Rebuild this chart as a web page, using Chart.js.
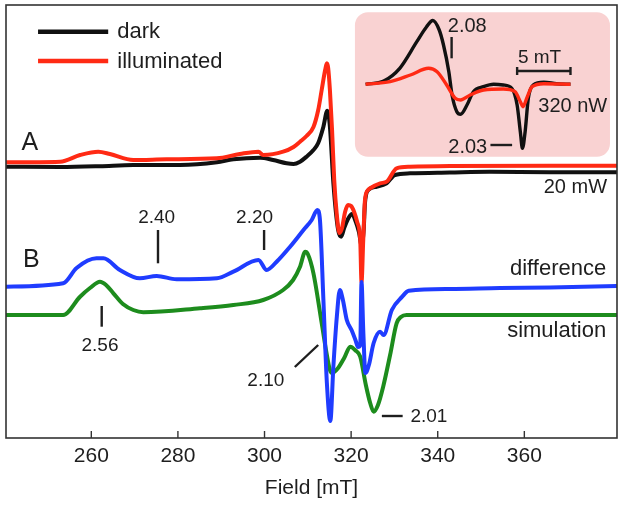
<!DOCTYPE html>
<html>
<head>
<meta charset="utf-8">
<script src="https://cdn.jsdelivr.net/npm/chart.js@4.4.1/dist/chart.umd.min.js"></script>
<style>
  body { margin: 0; background: #fff; }
  canvas { display: block; }
</style>
</head>
<body>
<canvas id="epr" width="624" height="505"></canvas>
<script>
// field in mT, signal in arbitrary units (offset per trace)
const xTicks = [260, 280, 300, 320, 340, 360];

// A: 20 mW spectra
const darkField = [240.1, 252.8, 262, 269.7, 280.5, 289.0, 292.8, 299.0, 302.0, 305.1, 306.7, 308.2, 309.7, 311.3, 312.4, 313.6, 314.5, 315.1, 315.9, 317.0, 317.7, 318.4, 319.4, 320.2, 321.1, 321.8, 322.4, 322.9, 323.2, 324.0, 325.9, 328.2, 330.1, 333.6, 342.8, 352, 365.9, 381.4];
const darkSig   = [270.3, 270, 270.8, 272, 272, 274.7, 277.7, 279.3, 277, 273.7, 273, 275.3, 280.3, 287, 294, 310.3, 326.3, 310.3, 254, 207, 200.3, 209, 219, 223, 215, 205, 192, 207, 234, 247, 250.3, 253.7, 262, 263.7, 264.5, 265.2, 264.7, 264.7];

const illumField = [240.1, 252.8, 257.4, 261.6, 264.3, 269.7, 277.4, 289.0, 294.3, 298.6, 299.7, 304.3, 306.7, 308.2, 309.7, 311.3, 312.4, 313.2, 314.0, 314.4, 314.7, 315.1, 315.6, 316.1, 316.7, 317.3, 317.9, 318.6, 319.3, 320.0, 320.7, 321.4, 322.1, 322.4, 322.8, 323.2, 323.9, 324.4, 326.7, 328.2, 330.5, 333.6, 342.8, 365.9, 381.4];
const illumSig   = [274.7, 275.3, 282, 285.3, 283, 277, 277.7, 278.7, 283, 285.3, 282, 285.3, 290, 295.3, 301, 310, 327, 347, 367, 373.7, 369, 347, 307, 257, 222, 204, 209, 225, 232, 231, 225, 215, 197, 155, 197, 237, 247, 248.7, 253.7, 255.3, 268.7, 270.3, 271, 271.3, 271.3];

// B: difference and simulation
const diffField = [240.1, 253.5, 256.6, 261.2, 262.8, 266.6, 271.2, 275.1, 279.7, 289.0, 292.8, 298.6, 300.5, 302.8, 305.9, 309.0, 310.9, 312.2, 312.8, 313.6, 314.4, 315.2, 315.9, 316.7, 317.4, 318.1, 319.0, 320.1, 321.0, 321.6, 322.1, 322.4, 322.8, 323.3, 324.1, 325.2, 326.7, 327.5, 329.4, 331.8, 333.3, 342.8, 354.4, 365.9, 381.4];
const diffSig   = [150.3, 153.7, 169, 178.7, 178.7, 167, 158.7, 161, 157.7, 158.7, 165.3, 177, 167, 175.3, 190.3, 207, 217, 227, 217, 137, 54, 16, 70.3, 120.3, 147, 137, 117, 107, 97, 90, 92, 155, 107, 64, 72, 94, 105.3, 102, 127, 140.3, 146.3, 148, 149, 149.5, 151];

const simField = [240.1, 253.5, 257.4, 259.7, 262.0, 263.4, 265.1, 267.3, 269.7, 272.0, 285.1, 292.8, 299.7, 304.3, 306.6, 308.2, 309.4, 310.0, 311.3, 313.2, 314.2, 315.1, 315.6, 317.0, 318.4, 319.8, 320.9, 322.1, 323.4, 324.4, 325.2, 326.2, 327.4, 329.0, 330.5, 331.5, 332.8, 381.4];
const simSig   = [122, 122, 140.3, 149, 155.3, 152, 143.7, 133, 127, 124.7, 128.7, 132, 137, 147, 157, 170.3, 185.3, 183, 163.7, 114, 87, 67, 64, 69, 79, 90.3, 87, 80.3, 52, 34, 25.3, 32, 50.3, 82, 113.7, 120, 122, 122];

// inset: 320 nW spectra (own field scale)
const insetDarkField = [315.7, 317.4, 318.9, 320.5, 321.4, 322.0, 322.6, 323.0, 323.5, 323.8, 324.25, 324.6, 325.2, 325.8, 326.75, 327.7, 328.6, 329.4, 329.9, 330.2, 330.4, 330.65, 330.95, 331.4, 332.4, 333.6, 334.9];
const insetDarkSig   = [352.7, 356, 368.7, 395.3, 410, 416.5, 407, 392, 365.3, 342, 325.3, 322.7, 332, 345.3, 350.3, 352.7, 352, 348.7, 332, 305.3, 288.7, 305.3, 338.7, 352, 354.7, 353.3, 352.7];
const insetIllumField = [315.7, 318.0, 319.9, 321.6, 322.4, 323.3, 324.1, 324.6, 325.5, 326.75, 328.6, 329.7, 330.2, 330.45, 330.8, 331.3, 332.4, 334.9];
const insetIllumSig   = [352.7, 355.3, 362, 368.7, 365.3, 352, 338.7, 337, 342, 347, 348, 345.3, 335.3, 330.3, 338.7, 350.3, 353.3, 352.7];

const FONT = '"Liberation Sans", Arial, Helvetica, sans-serif';
const INK = '#1e1e1e';

function pts(xs, ys) {
    return xs.map((x, i) => ({x: x, y: ys[i]}));
}

function line(label, xs, ys, color, xAxis, width) {
    return {
        label: label,
        data: pts(xs, ys),
        borderColor: color,
        borderWidth: width,
        pointRadius: 0,
        cubicInterpolationMode: 'monotone',
        xAxisID: xAxis,
        yAxisID: 'y'
    };
}

// text and marks, placed in data coordinates
const decor = {
    id: 'decor',
    beforeDatasetsDraw(chart) {
        const ctx = chart.ctx, xi = chart.scales.xi, y = chart.scales.y;
        // pink inset panel
        const l = xi.getPixelForValue(314.7), r = xi.getPixelForValue(338.6);
        const t = y.getPixelForValue(424.7), b = y.getPixelForValue(280.3);
        ctx.save();
        ctx.fillStyle = '#f9d2d2';
        ctx.beginPath();
        ctx.roundRect(l, t, r - l, b - t, 13);
        ctx.fill();
        ctx.restore();
    },
    afterDatasetsDraw(chart) {
        const ctx = chart.ctx, x = chart.scales.x, xi = chart.scales.xi, y = chart.scales.y;
        const a = chart.chartArea;
        ctx.save();

        // frame
        ctx.strokeStyle = '#333';
        ctx.lineWidth = 1.6;
        ctx.strokeRect(a.left, a.top, a.right - a.left, a.bottom - a.top);
        // inward tick marks
        ctx.lineWidth = 1.4;
        x.ticks.forEach(t => {
            const px = x.getPixelForValue(t.value);
            ctx.beginPath();
            ctx.moveTo(px, a.bottom);
            ctx.lineTo(px, a.bottom - 7);
            ctx.stroke();
        });

        function seg(s, x1, y1, x2, y2) {
            ctx.strokeStyle = INK;
            ctx.lineWidth = 2.4;
            ctx.beginPath();
            ctx.moveTo(s.getPixelForValue(x1), y.getPixelForValue(y1));
            ctx.lineTo(s.getPixelForValue(x2), y.getPixelForValue(y2));
            ctx.stroke();
        }
        function txt(s, str, fx, fy, size, align) {
            ctx.fillStyle = INK;
            ctx.font = size + 'px ' + FONT;
            ctx.textAlign = align;
            ctx.textBaseline = 'alphabetic';
            ctx.fillText(str, s.getPixelForValue(fx), y.getPixelForValue(fy));
        }

        // legend
        ctx.lineWidth = 4.5;
        ctx.strokeStyle = '#111';
        ctx.beginPath();
        ctx.moveTo(x.getPixelForValue(247.7), y.getPixelForValue(405.3));
        ctx.lineTo(x.getPixelForValue(263.9), y.getPixelForValue(405.3));
        ctx.stroke();
        ctx.strokeStyle = '#ff2a14';
        ctx.beginPath();
        ctx.moveTo(x.getPixelForValue(247.7), y.getPixelForValue(376));
        ctx.lineTo(x.getPixelForValue(263.9), y.getPixelForValue(376));
        ctx.stroke();
        txt(x, 'dark', 266.0, 398.7, 22, 'left');
        txt(x, 'illuminated', 266.0, 368.7, 22, 'left');

        // panel letters and trace names
        txt(x, 'A', 243.9, 287, 25, 'left');
        txt(x, 'B', 244.2, 170.3, 25, 'left');
        txt(x, '20 mW', 379.1, 244, 20, 'right');
        txt(x, 'difference', 378.9, 162, 22, 'right');
        txt(x, 'simulation', 378.9, 100.3, 22, 'right');

        // g-value markers
        txt(x, '2.40', 275.1, 214, 19, 'center');
        seg(x, 275.4, 207, 275.4, 173.7);
        txt(x, '2.20', 297.7, 214, 19, 'center');
        seg(x, 299.9, 207, 299.9, 187);
        txt(x, '2.56', 262.0, 86, 19, 'center');
        seg(x, 262.4, 131, 262.4, 110.3);
        txt(x, '2.10', 300.3, 51, 19, 'center');
        seg(x, 307.0, 70, 312.4, 92);
        txt(x, '2.01', 333.7, 15, 19, 'left');
        seg(x, 327.1, 21, 331.9, 21);

        // inset marks
        txt(xi, '2.08', 323.4, 405.3, 20, 'left');
        seg(xi, 323.76, 400, 323.76, 378.7);
        txt(xi, '5 mT', 332.0, 373.7, 19, 'center');
        seg(xi, 329.9, 366, 334.9, 366);
        seg(xi, 329.9, 362, 329.9, 370);
        seg(xi, 334.9, 362, 334.9, 370);
        txt(xi, '320 nW', 338.34, 325.3, 20, 'right');
        txt(xi, '2.03', 327.1, 283.7, 20, 'right');
        seg(xi, 327.4, 292, 329.43, 292);

        ctx.restore();
    }
};

new Chart(document.getElementById('epr'), {
    type: 'line',
    data: {
        datasets: [
            line('difference', diffField, diffSig, '#1f3cff', 'x', 4),
            line('simulation', simField, simSig, '#1d8c1d', 'x', 4),
            line('illuminated', illumField, illumSig, '#ff2a14', 'x', 4),
            line('dark', darkField, darkSig, '#111111', 'x', 4),
            line('illuminated 320 nW', insetIllumField, insetIllumSig, '#ff2a14', 'xi', 3.4),
            line('dark 320 nW', insetDarkField, insetDarkSig, '#111111', 'xi', 3.4)
        ]
    },
    options: {
        responsive: false,
        animation: false,
        layout: { padding: { left: 6, right: 7, top: 5, bottom: 0 } },
        plugins: { legend: { display: false }, tooltip: { enabled: false } },
        scales: {
            x: {
                type: 'linear',
                min: 240.3,
                max: 381.4,
                afterBuildTicks: axis => { axis.ticks = xTicks.map(v => ({value: v})); },
                afterFit: axis => { axis.height = 67; },
                grid: { display: false, drawTicks: false },
                border: { display: false },
                ticks: { font: { family: FONT, size: 21 }, color: INK, padding: 6 },
                title: { display: true, text: 'Field [mT]', color: INK, font: { family: FONT, size: 21 }, padding: { top: 0, bottom: 4 } }
            },
            xi: { type: 'linear', display: false, min: 282.0, max: 339.26 },
            y: { type: 'linear', display: false, min: -1, max: 432 }
        }
    },
    plugins: [decor]
});
</script>
</body>
</html>
